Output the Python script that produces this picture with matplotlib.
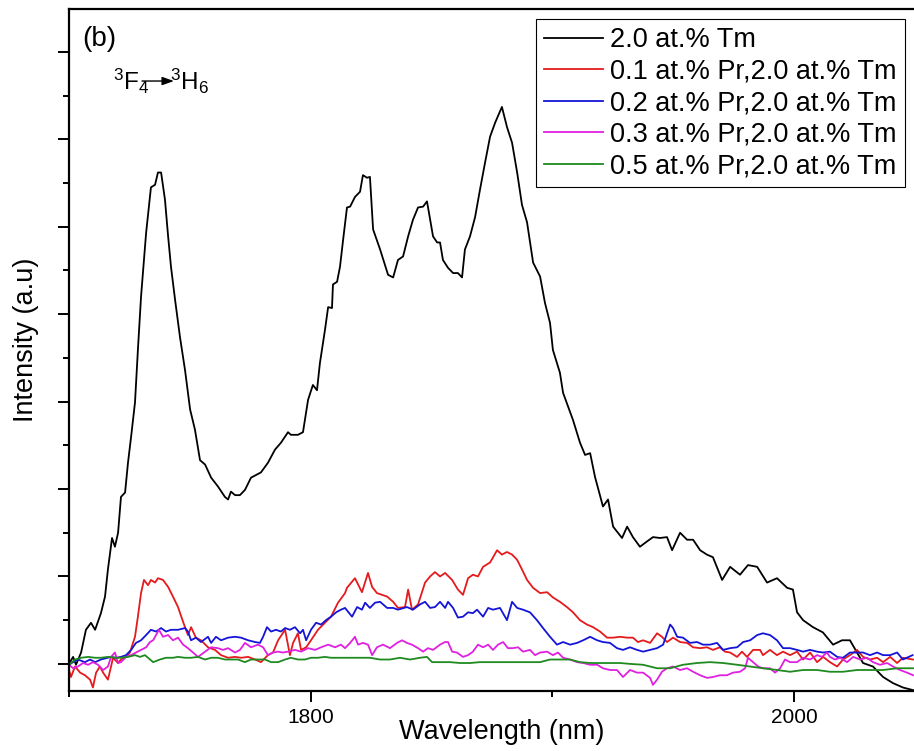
import numpy as np
import matplotlib
matplotlib.use("Agg")
import matplotlib.pyplot as plt
from matplotlib.ticker import MultipleLocator, NullFormatter

plt.rcParams['font.family'] = ['Liberation Sans', 'DejaVu Sans']
plt.rcParams['mathtext.fontset'] = 'custom'
plt.rcParams['mathtext.rm'] = 'Liberation Sans'
plt.rcParams['mathtext.it'] = 'Liberation Sans:italic'
plt.rcParams['mathtext.bf'] = 'Liberation Sans:bold'

# ---- data (wavelength in nm, intensity in a.u.) ----
labels = ['2.0 at.% Tm',
          '0.1 at.% Pr,2.0 at.% Tm',
          '0.2 at.% Pr,2.0 at.% Tm',
          '0.3 at.% Pr,2.0 at.% Tm',
          '0.5 at.% Pr,2.0 at.% Tm']
colors = ['#000000', '#e41a1c', '#1414d8', '#e020e0', '#1f8a1f']

tm_nm = [1700.0, 1701.7, 1702.9, 1705.0, 1707.0, 1709.1, 1710.8, 1713.2, 1714.9, 1716.1,
         1717.8, 1719.0, 1720.3, 1721.5, 1723.2, 1724.4, 1725.7, 1727.3, 1728.5, 1729.8,
         1731.9, 1733.9, 1735.6, 1736.8, 1738.1, 1739.7, 1741.0, 1742.2, 1743.9, 1745.9,
         1748.0, 1750.1, 1752.1, 1754.2, 1756.3, 1758.8, 1761.6, 1764.5, 1765.8, 1767.0,
         1768.7, 1770.7, 1772.8, 1775.3, 1777.4, 1779.4, 1782.3, 1785.2, 1787.7, 1790.6,
         1791.8, 1794.7, 1796.8, 1798.9, 1800.9, 1802.6, 1803.8, 1805.9, 1807.2, 1808.8,
         1809.2, 1810.9, 1812.1, 1813.4, 1815.0, 1816.3, 1818.3, 1820.4, 1821.6, 1823.3,
         1824.5, 1825.8, 1828.7, 1832.0, 1834.1, 1836.1, 1838.2, 1840.3, 1842.3, 1844.4,
         1846.5, 1848.1, 1849.4, 1850.6, 1852.3, 1853.5, 1854.7, 1856.8, 1858.9, 1860.9,
         1862.6, 1863.8, 1865.9, 1868.0, 1870.0, 1872.1, 1874.2, 1876.3, 1879.1, 1881.2,
         1883.3, 1885.4, 1887.4, 1889.5, 1892.0, 1894.9, 1896.9, 1899.0, 1900.2, 1901.1,
         1903.1, 1904.4, 1908.5, 1911.4, 1913.5, 1915.6, 1917.6, 1920.9, 1923.0, 1925.1,
         1928.8, 1930.9, 1933.3, 1936.2, 1939.1, 1941.6, 1944.5, 1947.4, 1949.5, 1952.8,
         1955.7, 1958.2, 1961.1, 1963.9, 1966.4, 1970.2, 1973.5, 1977.6, 1980.9, 1984.7,
         1988.8, 1992.9, 1997.1, 1999.5, 2001.2, 2003.7, 2007.8, 2011.9, 2016.1, 2019.8,
         2023.1, 2026.0, 2028.5, 2032.6, 2036.8, 2040.9, 2045.0, 2049.2]
tm_int = [0.00, 0.08, -0.01, 0.13, 0.39, 0.47, 0.39, 0.58, 0.77, 1.08,
          1.44, 1.34, 1.50, 1.91, 1.96, 2.30, 2.60, 2.99, 3.59, 4.20,
          4.93, 5.45, 5.48, 5.62, 5.62, 5.31, 4.89, 4.54, 4.16, 3.74,
          3.36, 2.91, 2.68, 2.33, 2.28, 2.13, 2.03, 1.91, 1.88, 1.97,
          1.93, 1.93, 1.99, 2.13, 2.16, 2.19, 2.30, 2.45, 2.53, 2.65,
          2.62, 2.62, 2.65, 3.02, 3.19, 3.13, 3.44, 3.82, 4.08, 4.07,
          4.34, 4.37, 4.54, 4.85, 5.22, 5.23, 5.34, 5.40, 5.59, 5.56,
          5.57, 4.97, 4.74, 4.45, 4.42, 4.62, 4.66, 4.89, 5.08, 5.22,
          5.23, 5.29, 5.08, 4.89, 4.82, 4.82, 4.62, 4.53, 4.47, 4.47,
          4.42, 4.74, 4.89, 5.11, 5.42, 5.73, 6.03, 6.19, 6.37, 6.14,
          5.96, 5.62, 5.25, 5.05, 4.59, 4.43, 4.13, 3.90, 3.59, 3.51,
          3.33, 3.10, 2.79, 2.53, 2.39, 2.41, 2.14, 1.80, 1.88, 1.57,
          1.44, 1.57, 1.45, 1.34, 1.40, 1.45, 1.44, 1.45, 1.30, 1.50,
          1.42, 1.42, 1.30, 1.25, 1.22, 0.96, 1.11, 1.02, 1.13, 1.11,
          0.93, 0.98, 0.87, 0.85, 0.59, 0.50, 0.42, 0.36, 0.22, 0.27,
          0.27, 0.13, 0.01, -0.03, -0.15, -0.22, -0.27, -0.30]

pr01_nm = [1700.0, 1700.8, 1702.5, 1704.6, 1706.6, 1708.7, 1709.9, 1711.2, 1712.8, 1714.1,
           1716.1, 1717.4, 1718.2, 1720.3, 1721.5, 1723.6, 1725.2, 1727.3, 1728.5, 1729.8,
           1731.0, 1732.7, 1733.9, 1735.6, 1736.8, 1738.9, 1741.0, 1743.0, 1745.1, 1747.2,
           1749.2, 1750.5, 1752.5, 1754.6, 1757.5, 1760.4, 1762.9, 1765.8, 1768.7, 1771.2,
           1774.1, 1777.0, 1779.4, 1782.3, 1784.4, 1786.5, 1789.4, 1791.4, 1792.7, 1794.7,
           1796.0, 1798.1, 1800.1, 1803.0, 1805.9, 1808.4, 1811.3, 1814.2, 1815.0, 1818.3,
           1821.2, 1823.7, 1825.4, 1827.4, 1831.6, 1834.1, 1836.1, 1839.0, 1840.3, 1841.9,
           1844.4, 1847.3, 1849.4, 1851.4, 1853.5, 1855.6, 1858.5, 1860.9, 1863.0, 1865.1,
           1867.1, 1869.2, 1871.3, 1874.2, 1877.1, 1879.1, 1881.2, 1883.3, 1885.4, 1887.4,
           1889.5, 1892.0, 1894.9, 1897.8, 1900.2, 1903.1, 1906.0, 1908.5, 1911.4, 1914.3,
           1916.8, 1919.7, 1922.6, 1925.1, 1928.0, 1930.9, 1933.3, 1935.4, 1937.5, 1940.4,
           1943.3, 1945.3, 1947.4, 1949.9, 1952.8, 1955.7, 1958.2, 1961.1, 1964.0, 1966.4,
           1969.3, 1971.4, 1973.5, 1976.4, 1978.4, 1980.5, 1983.0, 1985.9, 1987.1, 1990.0,
           1992.9, 1995.4, 1998.3, 2001.2, 2003.7, 2006.6, 2009.5, 2012.0, 2014.8, 2017.8,
           2020.2, 2023.1, 2026.0, 2028.5, 2031.4, 2034.3, 2036.8, 2039.7, 2042.6, 2045.0,
           2049.2]
pr01_int = [-0.07, -0.15, -0.03, -0.10, -0.13, -0.18, -0.27, -0.10, -0.03, -0.10,
            -0.18, -0.03, 0.07, 0.01, 0.05, 0.08, 0.13, 0.31, 0.54, 0.81,
            0.96, 0.90, 0.96, 0.93, 0.98, 0.96, 0.88, 0.77, 0.65, 0.48,
            0.33, 0.42, 0.30, 0.27, 0.19, 0.16, 0.10, 0.07, 0.08, 0.07,
            0.08, 0.05, 0.02, 0.10, 0.13, 0.27, 0.39, 0.10, 0.24, 0.35,
            0.16, 0.19, 0.27, 0.39, 0.47, 0.54, 0.70, 0.81, 0.87, 0.98,
            0.82, 1.04, 0.88, 0.81, 0.77, 0.71, 0.64, 0.65, 0.85, 0.62,
            0.68, 0.93, 1.00, 1.05, 1.00, 1.04, 0.96, 0.85, 0.79, 0.98,
            1.02, 1.00, 1.11, 1.16, 1.30, 1.25, 1.28, 1.25, 1.19, 1.08,
            0.96, 0.87, 0.81, 0.82, 0.76, 0.71, 0.65, 0.59, 0.50, 0.45,
            0.42, 0.37, 0.30, 0.30, 0.31, 0.30, 0.30, 0.25, 0.27, 0.24,
            0.35, 0.31, 0.25, 0.30, 0.25, 0.24, 0.19, 0.18, 0.19, 0.16,
            0.19, 0.14, 0.13, 0.08, 0.14, 0.08, 0.16, 0.16, 0.10, 0.16,
            0.10, 0.14, 0.10, 0.14, 0.05, 0.13, 0.02, 0.08, 0.02, -0.03,
            0.05, 0.10, 0.16, 0.08, 0.05, 0.07, 0.02, 0.08, 0.01, 0.07,
            0.05]

pr02_nm = [1700.0, 1701.7, 1703.7, 1706.6, 1708.7, 1710.8, 1713.2, 1716.1, 1717.4, 1719.4,
           1721.5, 1723.6, 1725.7, 1727.7, 1729.8, 1731.9, 1733.9, 1736.0, 1738.1, 1740.1,
           1742.2, 1745.1, 1748.0, 1749.2, 1750.5, 1752.5, 1754.6, 1757.5, 1758.8, 1760.8,
           1762.9, 1765.8, 1768.7, 1771.2, 1774.1, 1777.0, 1779.0, 1780.3, 1781.9, 1783.6,
           1785.6, 1787.7, 1789.4, 1791.4, 1793.5, 1795.6, 1796.8, 1798.1, 1800.1, 1802.2,
           1804.3, 1806.3, 1808.4, 1810.5, 1812.5, 1814.2, 1817.1, 1819.2, 1821.2, 1822.5,
           1824.5, 1826.6, 1828.7, 1831.6, 1834.1, 1836.1, 1839.8, 1842.3, 1845.2, 1847.3,
           1849.4, 1851.4, 1853.5, 1855.6, 1856.8, 1858.9, 1860.9, 1863.0, 1865.1, 1867.1,
           1868.8, 1871.3, 1873.4, 1875.4, 1878.3, 1881.2, 1883.3, 1885.4, 1887.8, 1890.7,
           1893.6, 1896.1, 1899.0, 1901.9, 1904.4, 1907.3, 1910.2, 1912.7, 1915.6, 1918.5,
           1920.9, 1923.8, 1926.7, 1929.2, 1932.1, 1935.0, 1937.5, 1940.4, 1943.3, 1945.8,
           1947.4, 1948.7, 1949.9, 1951.6, 1954.0, 1956.9, 1959.8, 1962.3, 1965.2, 1968.1,
           1970.6, 1973.5, 1976.4, 1978.9, 1981.8, 1984.7, 1987.1, 1990.0, 1992.9, 1995.4,
           1998.3, 2001.2, 2003.7, 2006.6, 2009.5, 2012.0, 2014.8, 2017.8, 2020.2, 2023.1,
           2026.0, 2028.5, 2031.4, 2034.3, 2036.8, 2039.7, 2042.6, 2045.0, 2049.0]
pr02_int = [-0.01, 0.02, 0.05, 0.02, 0.05, 0.02, 0.05, 0.07, 0.08, 0.07,
            0.08, 0.10, 0.16, 0.24, 0.27, 0.33, 0.39, 0.37, 0.41, 0.37,
            0.39, 0.39, 0.41, 0.37, 0.27, 0.30, 0.25, 0.31, 0.24, 0.31,
            0.27, 0.30, 0.31, 0.30, 0.27, 0.25, 0.24, 0.31, 0.42, 0.37,
            0.39, 0.37, 0.41, 0.39, 0.42, 0.35, 0.39, 0.27, 0.39, 0.47,
            0.45, 0.50, 0.54, 0.59, 0.62, 0.64, 0.54, 0.65, 0.62, 0.70,
            0.64, 0.70, 0.71, 0.64, 0.64, 0.62, 0.65, 0.62, 0.68, 0.71,
            0.64, 0.65, 0.71, 0.64, 0.71, 0.64, 0.53, 0.54, 0.59, 0.58,
            0.62, 0.54, 0.64, 0.62, 0.64, 0.50, 0.71, 0.64, 0.62, 0.59,
            0.50, 0.41, 0.31, 0.22, 0.25, 0.22, 0.24, 0.27, 0.31, 0.27,
            0.25, 0.24, 0.18, 0.16, 0.19, 0.16, 0.14, 0.16, 0.18, 0.22,
            0.35, 0.45, 0.41, 0.31, 0.30, 0.24, 0.25, 0.22, 0.22, 0.24,
            0.16, 0.18, 0.19, 0.25, 0.27, 0.33, 0.35, 0.33, 0.27, 0.18,
            0.18, 0.16, 0.14, 0.16, 0.14, 0.13, 0.14, 0.08, 0.07, 0.13,
            0.13, 0.13, 0.10, 0.13, 0.10, 0.10, 0.13, 0.05, 0.10]

pr03_nm = [1700.0, 1701.7, 1703.7, 1705.8, 1707.9, 1709.9, 1712.0, 1714.1, 1716.1, 1717.4,
           1719.0, 1720.3, 1721.5, 1723.6, 1725.7, 1727.7, 1729.8, 1731.9, 1733.5, 1734.8,
           1736.0, 1737.2, 1738.9, 1741.0, 1743.0, 1745.1, 1747.2, 1749.2, 1751.3, 1753.4,
           1756.3, 1758.8, 1761.6, 1763.7, 1765.8, 1768.7, 1770.7, 1772.8, 1775.3, 1778.2,
           1780.3, 1782.3, 1784.4, 1786.5, 1788.5, 1790.6, 1793.5, 1796.0, 1798.9, 1801.8,
           1804.3, 1807.2, 1810.1, 1812.5, 1814.2, 1816.3, 1818.3, 1819.6, 1821.6, 1823.7,
           1825.4, 1827.4, 1829.9, 1832.8, 1835.7, 1837.8, 1839.8, 1841.9, 1844.4, 1846.5,
           1848.5, 1850.6, 1853.5, 1855.6, 1856.8, 1858.5, 1860.5, 1863.0, 1865.1, 1867.1,
           1869.2, 1871.3, 1873.4, 1875.4, 1877.5, 1879.6, 1881.6, 1883.7, 1885.8, 1887.8,
           1890.7, 1892.8, 1894.9, 1897.8, 1900.2, 1902.3, 1904.4, 1907.3, 1910.2, 1912.7,
           1915.6, 1918.5, 1920.9, 1923.8, 1926.7, 1929.2, 1932.1, 1935.0, 1937.5, 1940.4,
           1941.6, 1943.3, 1945.3, 1947.4, 1949.9, 1952.8, 1955.7, 1958.2, 1961.1, 1964.0,
           1966.4, 1969.3, 1972.2, 1974.7, 1977.6, 1979.7, 1980.9, 1983.0, 1985.1, 1987.1,
           1990.0, 1992.1, 1994.2, 1996.2, 1998.3, 2001.2, 2003.7, 2006.6, 2009.5, 2011.5,
           2013.6, 2014.8, 2016.9, 2019.0, 2021.9, 2024.4, 2027.3, 2030.2, 2032.6, 2035.5,
           2038.5, 2040.9, 2043.8, 2046.7, 2049.2]
pr03_int = [-0.01, -0.05, -0.03, 0.01, -0.01, 0.02, -0.01, -0.07, -0.03, 0.08,
            0.13, 0.01, 0.02, 0.08, 0.10, 0.13, 0.16, 0.19, 0.25, 0.27,
            0.33, 0.39, 0.31, 0.33, 0.27, 0.30, 0.22, 0.18, 0.13, 0.08,
            0.14, 0.19, 0.18, 0.16, 0.18, 0.13, 0.16, 0.24, 0.19, 0.22,
            0.19, 0.10, 0.13, 0.14, 0.13, 0.14, 0.16, 0.14, 0.18, 0.16,
            0.19, 0.22, 0.19, 0.22, 0.18, 0.24, 0.31, 0.22, 0.24, 0.22,
            0.10, 0.19, 0.22, 0.18, 0.24, 0.27, 0.24, 0.22, 0.18, 0.14,
            0.18, 0.16, 0.22, 0.25, 0.25, 0.14, 0.13, 0.08, 0.10, 0.14,
            0.22, 0.19, 0.22, 0.16, 0.22, 0.25, 0.18, 0.18, 0.19, 0.14,
            0.16, 0.10, 0.13, 0.14, 0.10, 0.13, 0.07, 0.05, 0.02, 0.01,
            -0.01, -0.01, -0.05, -0.07, -0.07, -0.15, -0.07, -0.10, -0.10, -0.16,
            -0.24, -0.18, -0.09, -0.05, -0.03, -0.07, -0.05, -0.09, -0.13, -0.16,
            -0.15, -0.13, -0.13, -0.10, -0.09, -0.05, 0.07, 0.02, -0.03, -0.05,
            -0.05, -0.10, -0.05, 0.05, 0.02, 0.02, 0.07, 0.05, 0.10, 0.08,
            0.13, 0.08, 0.05, 0.07, 0.02, 0.08, 0.05, 0.07, 0.02, -0.01,
            0.01, -0.03, -0.07, -0.10, -0.13]

pr05_nm = [1700.0, 1702.5, 1705.0, 1707.9, 1710.8, 1713.2, 1716.1, 1719.0, 1721.5, 1724.4,
           1727.3, 1729.4, 1731.4, 1732.7, 1734.8, 1737.6, 1740.1, 1743.0, 1745.1, 1748.0,
           1750.5, 1753.4, 1756.3, 1758.8, 1761.6, 1764.5, 1767.0, 1769.9, 1772.8, 1775.3,
           1778.2, 1781.1, 1783.6, 1786.5, 1789.4, 1791.8, 1794.7, 1797.6, 1800.1, 1803.0,
           1805.9, 1808.4, 1811.3, 1814.2, 1816.3, 1820.4, 1824.5, 1828.7, 1832.8, 1836.9,
           1841.1, 1845.2, 1848.1, 1850.2, 1853.5, 1857.6, 1861.8, 1865.9, 1870.0, 1874.2,
           1878.3, 1882.5, 1886.6, 1890.7, 1894.9, 1899.0, 1903.1, 1907.3, 1911.4, 1915.6,
           1919.7, 1923.8, 1928.0, 1932.1, 1937.5, 1943.3, 1948.7, 1954.0, 1959.8, 1965.2,
           1970.6, 1976.4, 1981.8, 1987.1, 1992.9, 1998.3, 2003.7, 2009.5, 2014.8, 2020.2,
           2026.0, 2031.4, 2036.8, 2042.6, 2049.2]
pr05_int = [-0.01, 0.05, 0.07, 0.08, 0.07, 0.07, 0.08, 0.07, 0.07, 0.08,
            0.10, 0.08, 0.10, 0.07, 0.02, 0.05, 0.07, 0.07, 0.08, 0.07,
            0.07, 0.08, 0.05, 0.07, 0.07, 0.05, 0.05, 0.05, 0.02, 0.05,
            0.05, 0.05, 0.02, 0.02, 0.05, 0.07, 0.05, 0.05, 0.07, 0.07,
            0.08, 0.07, 0.07, 0.07, 0.07, 0.07, 0.07, 0.05, 0.05, 0.07,
            0.05, 0.07, 0.08, 0.02, 0.02, 0.02, 0.01, 0.01, 0.02, 0.02,
            0.02, 0.02, 0.02, 0.02, 0.02, 0.05, 0.05, 0.05, 0.02, 0.01,
            0.01, 0.01, 0.01, 0.00, -0.01, -0.05, -0.05, -0.01, 0.01, 0.02,
            0.01, -0.01, -0.03, -0.05, -0.07, -0.09, -0.07, -0.07, -0.09, -0.09,
            -0.07, -0.07, -0.07, -0.05, -0.05]

series_nm = [tm_nm, pr01_nm, pr02_nm, pr03_nm, pr05_nm]
series_int = [tm_int, pr01_int, pr02_int, pr03_int, pr05_int]

# ---- figure ----
fig = plt.figure(figsize=(9.14, 7.51), dpi=100)
ax = fig.add_axes([0.0755, 0.0799, 0.9256, 0.9081])

for nm, val, c, lab in zip(series_nm, series_int, colors, labels):
    ax.plot(nm, val, color=c, lw=1.3, label=lab)

ax.set_xlim(1700, 2050)
ax.set_ylim(-0.31, 7.49)

ax.xaxis.set_major_locator(MultipleLocator(200))
ax.xaxis.set_minor_locator(MultipleLocator(100))
ax.yaxis.set_major_locator(MultipleLocator(1))
ax.yaxis.set_minor_locator(MultipleLocator(0.5))
ax.yaxis.set_major_formatter(NullFormatter())

ax.tick_params(which='major', direction='out', length=8, width=1.4, labelsize=15, pad=4.5)
ax.tick_params(which='minor', direction='out', length=4, width=1.4)
for sp in ax.spines.values():
    sp.set_linewidth(1.6)

ax.set_xlabel('Wavelength (nm)', fontsize=19.5)
ax.set_ylabel('Intensity (a.u)', fontsize=19.5)
ax.xaxis.set_label_coords(0.512, -0.041)
ax.yaxis.set_label_coords(-0.036, 0.515)

ax.text(0.0154, 0.975, '(b)', transform=ax.transAxes, fontsize=20, ha='left', va='top')
ax.text(0.052, 0.881, r'$^{3}$F$_{4}$', transform=ax.transAxes, fontsize=17.5,
        ha='left', va='baseline')
ax.text(0.1194, 0.881, r'$^{3}$H$_{6}$', transform=ax.transAxes, fontsize=17.5,
        ha='left', va='baseline')
ax.annotate('', xy=(0.1240, 0.8944), xytext=(0.0863, 0.8944),
            xycoords='axes fraction', textcoords='axes fraction',
            arrowprops=dict(arrowstyle='-|>,head_length=0.7,head_width=0.25',
                            color='black', lw=1.0, shrinkA=0, shrinkB=0))

leg = ax.legend(loc='upper right', fontsize=19.5, handlelength=2.2, handletextpad=0.25,
                labelspacing=0.2, borderpad=0.3, borderaxespad=0.38,
                fancybox=False, edgecolor='black', framealpha=1)
leg.get_frame().set_linewidth(0.8)

fig.savefig('out.png', dpi=100)
